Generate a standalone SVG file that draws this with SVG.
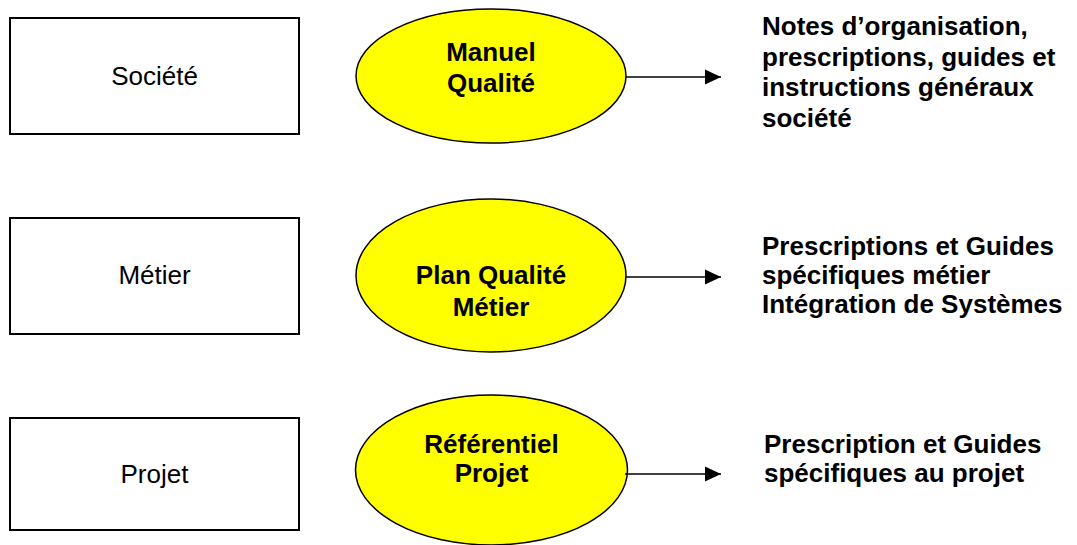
<svg xmlns="http://www.w3.org/2000/svg" width="1077" height="545" viewBox="0 0 1077 545">
<style>
.box{fill:#fff;stroke:#000;stroke-width:2}
.ell{fill:#ffff00;stroke:#000;stroke-width:1.5}
.lbl{font-family:"Liberation Sans",Arial,sans-serif;font-size:26px;fill:#000}
.b{font-weight:bold}
.mid{text-anchor:middle}
.conn{stroke:#000;stroke-width:1.5;fill:none}
</style>
<defs>
<marker id="arr" markerUnits="userSpaceOnUse" markerWidth="16" markerHeight="16" viewBox="0 0 16 16" refX="16" refY="8" orient="auto">
<path d="M0,0.5 L16,8 L0,15.5 Z" fill="#000"/>
</marker>
</defs>
<rect width="1077" height="545" fill="#fff"/>
<g id="societe">
<rect class="box" x="10" y="18" width="289" height="116"/>
<text class="lbl mid" x="154.5" y="85">Société</text>
</g>
<g id="metier">
<rect class="box" x="10" y="218" width="289" height="116"/>
<text class="lbl mid" x="154.5" y="284">Métier</text>
</g>
<g id="projet">
<rect class="box" x="10" y="418" width="289" height="112"/>
<text class="lbl mid" x="154.5" y="483">Projet</text>
</g>
<g id="manuel-qualite">
<ellipse class="ell" cx="491" cy="76" rx="135" ry="67"/>
<text class="lbl b mid" x="491" y="61">Manuel</text>
<text class="lbl b mid" x="491" y="92">Qualité</text>
</g>
<g id="plan-qualite-metier">
<ellipse class="ell" cx="491" cy="275.5" rx="135" ry="76.5"/>
<text class="lbl b mid" x="491" y="284">Plan Qualité</text>
<text class="lbl b mid" x="491" y="316">Métier</text>
</g>
<g id="referentiel-projet">
<ellipse class="ell" cx="491.5" cy="470" rx="136" ry="75"/>
<text class="lbl b mid" x="491.5" y="453">Référentiel</text>
<text class="lbl b mid" x="491.5" y="482">Projet</text>
</g>
<g id="desc-societe">
<text class="lbl b" x="762" y="35">Notes d’organisation,</text>
<text class="lbl b" x="762" y="65.5">prescriptions, guides et</text>
<text class="lbl b" x="762" y="96">instructions généraux</text>
<text class="lbl b" x="762" y="127">société</text>
</g>
<g id="desc-metier">
<text class="lbl b" x="762" y="255">Prescriptions et Guides</text>
<text class="lbl b" x="762" y="284">spécifiques métier</text>
<text class="lbl b" x="762" y="313">Intégration de Systèmes</text>
</g>
<g id="desc-projet">
<text class="lbl b" x="764" y="453">Prescription et Guides</text>
<text class="lbl b" x="764" y="482">spécifiques au projet</text>
</g>
<g id="connectors">
<line class="conn" x1="626" y1="77" x2="721" y2="77" marker-end="url(#arr)"/>
<line class="conn" x1="626" y1="277" x2="721" y2="277" marker-end="url(#arr)"/>
<line class="conn" x1="625" y1="474" x2="721" y2="474" marker-end="url(#arr)"/>
</g>
</svg>
